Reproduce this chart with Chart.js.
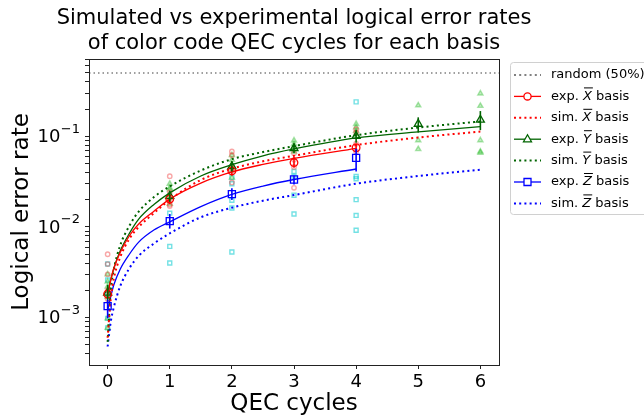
<!DOCTYPE html>
<html>
<head>
<meta charset="utf-8">
<script src="https://cdn.jsdelivr.net/npm/chart.js@4.4.1/dist/chart.umd.min.js"></script>
<style>
html, body { margin: 0; padding: 0; background: #fff; }
#wrap { width: 644px; height: 418px; position: relative; }
</style>
</head>
<body>
<div id="wrap"><canvas id="qecChart"></canvas></div>
<script>
// experimental means (QEC cycles on x)
const expCycles = [0, 1, 2, 3, 4, 5, 6];

const expX = [0.00182, 0.0203, 0.0415, 0.0513, 0.0748];
const expXLow = [0.0016, 0.0178, 0.037, 0.045, 0.067];
const expXHigh = [0.0021, 0.0232, 0.047, 0.059, 0.083];

const expY = [0.00188, 0.0219, 0.0466, 0.0736, 0.1005, 0.137, 0.152];
const expYLow = [0.0015, 0.019, 0.041, 0.065, 0.085, 0.11, 0.117];
const expYHigh = [0.0023, 0.025, 0.053, 0.084, 0.118, 0.162, 0.19];

const expZ = [0.00134, 0.0116, 0.0230, 0.0334, 0.0578];
const expZLow = [0.00098, 0.0096, 0.0198, 0.0295, 0.041];
const expZHigh = [0.00158, 0.0139, 0.0268, 0.037, 0.073];

// single runs, drawn faint
const runsXCycles = [0,0,0,0,0, 1,1,1,1,1, 2,2,2,2,2, 3,3,3,3, 4,4,4,4];
const runsX = [0.0050,0.0039,0.0030,0.0020,0.0016, 0.0363,0.0240,0.0195,0.0177,0.0170, 0.068,0.062,0.045,0.040,0.031, 0.065,0.055,0.046,0.027, 0.12,0.11,0.083,0.068];
const runsYCycles = [0,0,0,0,0,0, 1,1,1,1,1, 2,2,2,2,2, 3,3,3,3, 4,4,4,4, 5,5,5, 6,6,6,6,6];
const runsY = [0.0030,0.0025,0.0022,0.0017,0.00098,0.00077, 0.030,0.027,0.026,0.021,0.018, 0.062,0.055,0.048,0.042,0.035, 0.090,0.082,0.075,0.068, 0.137,0.126,0.115,0.105, 0.220,0.0905,0.0723, 0.297,0.217,0.0905,0.0678,0.066];
const runsZCycles = [0,0,0,0,0, 1,1,1, 2,2,2,2,2, 3,3,3,3, 4,4,4,4,4,4];
const runsZ = [0.0039,0.0026,0.0018,0.00098,0.00077, 0.0142,0.0061,0.0040, 0.035,0.030,0.0197,0.0162,0.0053, 0.041,0.036,0.0224,0.0139, 0.24,0.036,0.034,0.020,0.0134,0.0092];

// fitted (solid) and simulated (dotted) curves
const curveCycles = [0, 0.05, 0.1, 0.2, 0.35, 0.5, 0.75, 1, 1.5, 2, 2.5, 3, 4, 5, 6];
const fitX = [0.0018, 0.0026, 0.0035, 0.0052, 0.0080, 0.0108, 0.0150, 0.0203, 0.0305, 0.0405, 0.049, 0.057, 0.0736];
const fitY = [0.0018, 0.0026, 0.0035, 0.0054, 0.0085, 0.0122, 0.0178, 0.0238, 0.0365, 0.0486, 0.061, 0.0725, 0.096, 0.112, 0.128];
const fitZ = [0.0012, 0.0017, 0.0023, 0.0034, 0.0050, 0.0068, 0.0093, 0.0114, 0.0168, 0.0229, 0.0283, 0.0334, 0.0436];
const simX = [0.0006, 0.0016, 0.0027, 0.0046, 0.0074, 0.0100, 0.0143, 0.0200, 0.0330, 0.0440, 0.053, 0.061, 0.080, 0.097, 0.113];
const simY = [0.00054, 0.0020, 0.0034, 0.0062, 0.0103, 0.0148, 0.0215, 0.0280, 0.042, 0.056, 0.067, 0.078, 0.103, 0.125, 0.146];
const simZ = [0.00048, 0.0009, 0.0013, 0.0022, 0.0035, 0.0048, 0.0066, 0.0085, 0.0128, 0.0163, 0.0195, 0.0225, 0.0300, 0.0365, 0.0428];

const randomLevel = 0.5;
const xRange = [-0.3, 6.3];
const yRange = [3.44e-4, 0.713];
const yLabelTicks = [1e-3, 1e-2, 1e-1];
const yLabelExp = ['\u22123', '\u22122', '\u22121'];
const titleLines = ['Simulated vs experimental logical error rates', 'of color code QEC cycles for each basis'];
const legendLabels = ['random (50%)', 'exp. X\u0305 basis', 'sim. X\u0305 basis', 'exp. Y\u0305 basis', 'sim. Y\u0305 basis', 'exp. Z\u0305 basis', 'sim. Z\u0305 basis'];

const RED = '#ff0000', GREEN = '#006400', BLUE = '#0000ff';
const FONT = "'DejaVu Sans', sans-serif";

const pts = (xs, ys) => ys.map((y, i) => ({x: xs[i], y: y}));

function curve(ys, color, dotted) {
  return {
    data: pts(curveCycles, ys), showLine: true, pointRadius: 0, borderColor: color,
    borderWidth: dotted ? 2 : 1.3, borderDash: dotted ? [2, 3.2] : [],
    cubicInterpolationMode: 'monotone', order: 1
  };
}

function expSet(ys, color, style, r) {
  return {
    data: pts(expCycles, ys), showLine: false, pointStyle: style, pointRadius: r,
    borderColor: color, backgroundColor: 'rgba(255,255,255,0)', borderWidth: 1.3, order: 0
  };
}

function runSet(xs, ys, stroke, fill, style, r) {
  return {
    data: pts(xs, ys), showLine: false, pointStyle: style, pointRadius: r,
    borderColor: stroke, backgroundColor: fill, borderWidth: 1.4, order: 2
  };
}

const errorBars = {
  id: 'errorBars',
  afterDatasetsDraw(chart) {
    const {ctx, scales: {x, y}} = chart;
    const sets = [[expX, expXLow, expXHigh, RED], [expY, expYLow, expYHigh, GREEN], [expZ, expZLow, expZHigh, BLUE]];
    ctx.save();
    ctx.lineWidth = 1.6;
    sets.forEach(([vals, lo, hi, color]) => {
      ctx.strokeStyle = color;
      vals.forEach((v, i) => {
        const px = x.getPixelForValue(expCycles[i]);
        ctx.beginPath();
        ctx.moveTo(px, y.getPixelForValue(lo[i]));
        ctx.lineTo(px, y.getPixelForValue(hi[i]));
        ctx.stroke();
      });
    });
    ctx.restore();
  }
};

const frame = {
  id: 'frame',
  afterDatasetsDraw(chart) {
    const {ctx, chartArea: a} = chart;
    ctx.save();
    ctx.strokeStyle = '#222';
    ctx.lineWidth = 1;
    ctx.strokeRect(Math.round(a.left) + 0.5, Math.round(a.top) + 0.5, Math.round(a.right - a.left), Math.round(a.bottom - a.top));
    ctx.restore();
  }
};

// "10" with a raised exponent, like the mathtext labels
const powerLabels = {
  id: 'powerLabels',
  afterDraw(chart) {
    const {ctx, scales: {y}} = chart;
    const right = y.right - 9;
    ctx.save();
    ctx.fillStyle = '#000';
    ctx.textAlign = 'right';
    ctx.textBaseline = 'middle';
    yLabelTicks.forEach((v, i) => {
      const py = y.getPixelForValue(v);
      ctx.font = '13px ' + FONT;
      const w = ctx.measureText(yLabelExp[i]).width;
      ctx.fillText(yLabelExp[i], right, py - 7);
      ctx.font = '18px ' + FONT;
      ctx.fillText('10', right - w - 0.5, py + 1);
    });
    ctx.restore();
  }
};

// two-line title centred over the plot area, not squeezed to its width
const plotTitle = {
  id: 'plotTitle',
  afterDraw(chart) {
    const {ctx, chartArea: a} = chart;
    ctx.save();
    ctx.fillStyle = '#000';
    ctx.textAlign = 'center';
    ctx.textBaseline = 'middle';
    ctx.font = '21px ' + FONT;
    titleLines.forEach((t, i) => ctx.fillText(t, (a.left + a.right) / 2, 19 + i * 25));
    ctx.restore();
  }
};

function marker(ctx, style, x, y, color) {
  ctx.save();
  ctx.strokeStyle = color;
  ctx.fillStyle = '#fff';
  ctx.lineWidth = 1.3;
  ctx.beginPath();
  if (style === 'circle') ctx.arc(x, y, 3.6, 0, Math.PI * 2);
  if (style === 'rect') ctx.rect(x - 3.5, y - 3.5, 7, 7);
  if (style === 'triangle') { ctx.moveTo(x, y - 4.5); ctx.lineTo(x + 4, y + 2.6); ctx.lineTo(x - 4, y + 2.6); ctx.closePath(); }
  ctx.fill();
  ctx.stroke();
  ctx.restore();
}

const sideLegend = {
  id: 'sideLegend',
  afterDraw(chart) {
    const ctx = chart.ctx;
    const rows = [
      ['#808080', 'dot', null], [RED, 'solid', 'circle'], [RED, 'dot', null],
      [GREEN, 'solid', 'triangle'], [GREEN, 'dot', null], [BLUE, 'solid', 'rect'], [BLUE, 'dot', null]
    ];
    ctx.save();
    ctx.fillStyle = 'rgba(255,255,255,0.9)';
    ctx.strokeStyle = '#d0d0d0';
    ctx.lineWidth = 1;
    ctx.beginPath();
    ctx.roundRect(510.5, 62.5, 150, 152, 3);
    ctx.fill();
    ctx.stroke();
    rows.forEach(([color, kind, mk], i) => {
      const yy = 75 + i * 21.4;
      ctx.strokeStyle = color;
      ctx.lineWidth = kind === 'dot' ? 2 : 1.3;
      ctx.setLineDash(kind === 'dot' ? [2, 3.2] : []);
      ctx.beginPath();
      ctx.moveTo(514, yy);
      ctx.lineTo(541, yy);
      ctx.stroke();
      ctx.setLineDash([]);
      if (mk) marker(ctx, mk, 527.5, yy, color);
      // label, with italic barred basis letter
      const label = legendLabels[i];
      const k = label.indexOf('\u0305');
      ctx.fillStyle = '#000';
      ctx.textBaseline = 'middle';
      ctx.font = '13px ' + FONT;
      let tx = 551;
      if (k < 0) { ctx.fillText(label, tx, yy); return; }
      const pre = label.slice(0, k - 1), sym = label[k - 1], post = label.slice(k + 1);
      ctx.fillText(pre, tx, yy);
      tx += ctx.measureText(pre).width;
      ctx.font = 'italic 13px ' + FONT;
      const w = ctx.measureText(sym).width;
      ctx.fillText(sym, tx, yy);
      ctx.fillRect(tx + 1, yy - 9, w, 1);
      tx += w;
      ctx.font = '13px ' + FONT;
      ctx.fillText(post, tx, yy);
    });
    ctx.restore();
  }
};

new Chart(document.getElementById('qecChart'), {
  type: 'scatter',
  data: {
    datasets: [
      expSet(expX, RED, 'circle', 3.8),
      expSet(expY, GREEN, 'triangle', 4.6),
      expSet(expZ, BLUE, 'rect', 5),
      { data: [{x: xRange[0], y: randomLevel}, {x: xRange[1], y: randomLevel}], showLine: true, pointRadius: 0,
        borderColor: '#808080', borderWidth: 1.5, borderDash: [1.5, 3], order: 1 },
      curve(fitX, RED, false),
      curve(simX, RED, true),
      curve(fitY, GREEN, false),
      curve(simY, GREEN, true),
      curve(fitZ, BLUE, false),
      curve(simZ, BLUE, true),
      runSet(runsXCycles, runsX, 'rgba(240,60,60,0.45)', 'rgba(255,255,255,0)', 'circle', 2.2),
      runSet(runsYCycles, runsY, 'rgba(50,190,50,0.4)', 'rgba(50,190,50,0.3)', 'triangle', 3),
      runSet(runsZCycles, runsZ, 'rgba(0,200,205,0.55)', 'rgba(255,255,255,0)', 'rect', 2.8)
    ]
  },
  options: {
    responsive: true,
    maintainAspectRatio: false,
    animation: false,
    layout: { padding: { left: 0, right: 145, top: 59, bottom: 0 } },
    plugins: {
      legend: { display: false },
      tooltip: { enabled: false },
      title: { display: false }
    },
    scales: {
      x: {
        type: 'linear', min: xRange[0], max: xRange[1],
        afterFit(scale) { scale.height = 53; },
        ticks: { stepSize: 1, includeBounds: false, color: '#000', padding: 3, font: { family: FONT, size: 18 } },
        grid: { drawOnChartArea: false, tickLength: 4, tickColor: '#222' },
        border: { display: false },
        title: { display: true, text: 'QEC cycles', color: '#000', padding: 0, font: { family: FONT, size: 23 } }
      },
      y: {
        type: 'logarithmic', min: yRange[0], max: yRange[1],
        afterFit(scale) { scale.width = 89; },
        afterBuildTicks(scale) {
          scale.ticks = scale.ticks.filter(t => {
            const e = Math.floor(Math.log10(t.value) + 1e-9);
            const s = t.value / Math.pow(10, e);
            return Math.abs(s - Math.round(s)) < 1e-6 && t.value > yRange[0] && t.value < yRange[1];
          });
        },
        ticks: { autoSkip: false, callback: () => '' },
        grid: { drawOnChartArea: false, tickLength: 4, tickColor: '#222' },
        border: { display: false },
        title: { display: true, text: 'Logical error rate', color: '#000', padding: { top: 8, bottom: 0 }, font: { family: FONT, size: 23 } }
      }
    }
  },
  plugins: [errorBars, frame, powerLabels, plotTitle, sideLegend]
});
</script>
</body>
</html>
